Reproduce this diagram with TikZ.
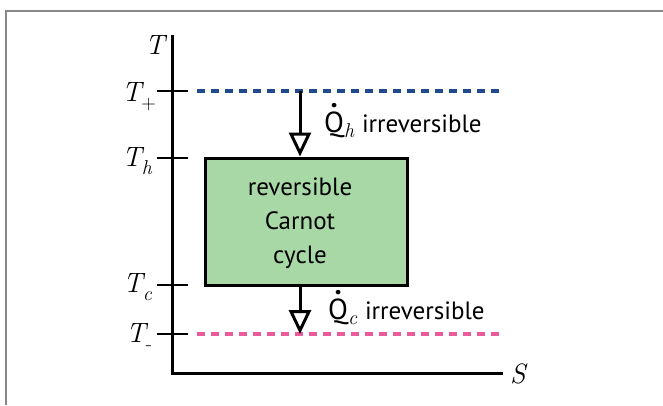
\documentclass[tikz,border=0pt]{standalone}
\usepackage{fontspec}
\setsansfont{PT Sans}
\usetikzlibrary{arrows.meta}
\definecolor{hotblue}{HTML}{1F4A8C}
\definecolor{coldpink}{HTML}{EC5A9A}
\definecolor{boxgreen}{HTML}{A8D8A6}
\definecolor{framegray}{HTML}{888888}
\newcommand{\tsub}[1]{\raisebox{-0.3em}{\fontsize{20}{20}\selectfont #1}}
\newcommand{\Qdot}{{\fontsize{29}{29}\selectfont\ooalign{Q\cr\hidewidth\raisebox{0.84em}{\textbf{.}}\hidewidth\cr}}}
\newcommand{\qsub}[1]{\raisebox{-0.2em}{\rmfamily\itshape\fontsize{20}{20}\selectfont #1}}
\tikzset{
  axisline/.style={line width=3pt},
  tickline/.style={line width=2.6pt},
  hotline/.style={line width=3.6pt, hotblue, dash pattern=on 8pt off 6pt},
  coldline/.style={line width=3.6pt, coldpink, dash pattern=on 8pt off 6pt},
  heatarrow/.style={line width=3pt, -{Triangle[open, length=24pt, width=22pt, line width=3pt]}},
  tlabel/.style={font=\itshape\fontsize{28}{30}\selectfont, anchor=base east, inner sep=0pt},
  sanslabel/.style={font=\sffamily\fontsize{25}{34}\selectfont, inner sep=0pt}
}
\begin{document}
\begin{tikzpicture}[x=1pt,y=-1pt]
\useasboundingbox (0,0) rectangle (663,405);
\draw[framegray, line width=2pt] (6,405) -- (6,11) -- (663,11);
% axes
\coordinate (ytop) at (172,35);
\coordinate (orig) at (172,373);
\coordinate (xend) at (503,373);
\draw[axisline] (ytop) -- (orig) -- (xend);
\node[font=\itshape\fontsize{28}{30}\selectfont, inner sep=0pt, anchor=base] (Tlab) at (155,54) {T};
\node[font=\itshape\fontsize{28}{30}\selectfont, inner sep=0pt, anchor=base west] (Slab) at (510,383) {S};
% ticks
\foreach \n/\y in {tp/91, th/158, tc/285, tm/334}{
  \coordinate (\n L) at (157,\y);
  \coordinate (\n R) at (188,\y);
  \draw[tickline] (\n L) -- (\n R);
}
\node[tlabel] (lTp) at (156,101) {T\tsub{\upshape +}};
\node[tlabel] (lTh) at (152,166) {T\tsub{h}};
\node[tlabel] (lTc) at (152,292) {T\tsub{c}};
\node[tlabel] (lTm) at (152,342) {T\tsub{\upshape -}};
% reservoirs
\coordinate (hotA) at (197,91);
\coordinate (hotB) at (500,91);
\coordinate (coldA) at (197,334);
\coordinate (coldB) at (500,334);
\draw[hotline] (hotA) -- (hotB);
\draw[coldline] (coldA) -- (coldB);
% cycle box
\node[draw, line width=3pt, fill=boxgreen, minimum width=202pt, minimum height=127pt, inner sep=0pt] (box) at (306,221.5) {};
\node[sanslabel, align=center] (boxtext) at (300,223) {reversible\\Carnot\\cycle};
% heat flows
\coordinate (qhs) at (300,91);
\coordinate (qcs) at (300,285);
\coordinate (qce) at (300,334);
\draw[heatarrow] (qhs) -- (qhs |- box.north);
\draw[heatarrow] (qcs) -- (qce);
\node[sanslabel, anchor=base west] (qhl) at (324,132) {\Qdot\qsub{h}\hspace{8pt}irreversible};
\node[sanslabel, anchor=base west] (qcl) at (328,319) {\Qdot\qsub{c}\hspace{8pt}irreversible};
\end{tikzpicture}
\end{document}
